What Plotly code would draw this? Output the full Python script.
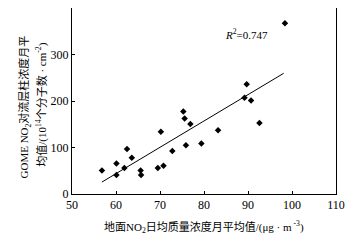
import plotly.graph_objects as go

# Data
ground_no2 = [56.8, 60.1, 60.1, 61.9, 62.5, 63.6, 65.6, 65.7, 69.5, 70.2, 70.8, 72.8,
              75.3, 75.6, 75.9, 76.9, 79.4, 83.2, 89.2, 89.7, 90.7, 92.6, 98.4]
gome_no2 = [50.7, 65.7, 41.0, 56.0, 97.0, 77.7, 50.7, 41.0, 56.0, 134.0, 60.6, 92.7,
            177.5, 162.6, 104.8, 150.4, 108.4, 137.0, 207.0, 236.0, 201.0, 152.5, 367.0]
fit_x = [56.8, 98.1]
fit_y = [25.7, 259.5]
x_ticks = [50, 60, 70, 80, 90, 100, 110]
y_ticks = [0, 100, 200, 300, 400]

FONT = "Liberation Serif, Times New Roman, Noto Sans CJK SC, serif"

fig = go.Figure()
fig.add_trace(go.Scatter(x=ground_no2, y=gome_no2, mode="markers",
                         marker=dict(symbol="diamond", size=5, color="black"),
                         showlegend=False, cliponaxis=False))
fig.add_trace(go.Scatter(x=fit_x, y=fit_y, mode="lines",
                         line=dict(color="black", width=1), showlegend=False))

axis_common = dict(showline=True, linecolor="black", linewidth=1, mirror=True,
                   ticks="inside", ticklen=3, tickcolor="black", showgrid=False,
                   zeroline=False, tickfont=dict(family=FONT, size=12, color="black"))

fig.update_xaxes(range=[50, 110], tickvals=x_ticks, ticklabeloverflow="allow", **axis_common)
fig.update_yaxes(range=[0, 400], tickvals=y_ticks, **axis_common)

fig.add_annotation(x=84.3, y=344, xref="x", yref="y", xanchor="left", yanchor="middle",
                   text="<i>R</i><sup>2</sup>=0.747", showarrow=False,
                   font=dict(family=FONT, size=11, color="black"))

fig.add_annotation(x=0.5, y=-0.176, xref="paper", yref="paper", xanchor="center", yanchor="middle",
                   text="地面NO<sub>2</sub>日均质量浓度月平均值/(μg · m<sup> -3</sup>)",
                   showarrow=False, font=dict(family=FONT, size=11, color="black"))

fig.add_annotation(x=0, y=0.465, xref="paper", yref="paper", xanchor="center", yanchor="middle",
                   xshift=-47, textangle=-90,
                   text="GOME NO<sub>2</sub>对流层柱浓度月平",
                   showarrow=False, font=dict(family=FONT, size=11, color="black"))
fig.add_annotation(x=0, y=0.48, xref="paper", yref="paper", xanchor="center", yanchor="middle",
                   xshift=-30, textangle=-90,
                   text="均值/(10<sup>14</sup>个分子数 · cm<sup>-2</sup>)",
                   showarrow=False, font=dict(family=FONT, size=11, color="black"))

# The page body adds an 8 px offset; size the figure so the plot area lands
# where the reference has it.
fig.update_layout(width=346, height=233, margin=dict(l=64, r=18, t=0, b=47),
                  plot_bgcolor="white", paper_bgcolor="white",
                  font=dict(family=FONT, color="black"))

fig.write_html("out.html")
